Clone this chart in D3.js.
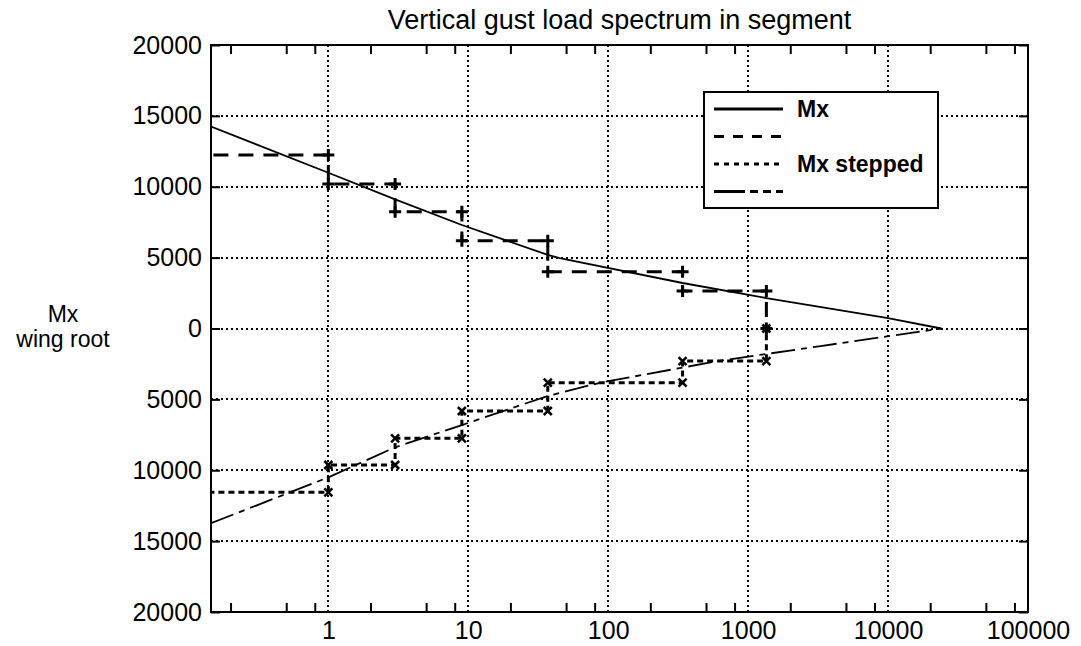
<!DOCTYPE html>
<html>
<head>
<meta charset="utf-8">
<script src="https://cdn.jsdelivr.net/npm/d3@7"></script>
<style>
  body { margin: 0; background: #fff; }
  text { font-family: "Liberation Sans", Arial, sans-serif; fill: #000; }
</style>
</head>
<body>
<div id="chart"></div>
<script>
// stepped spectrum: break points on the x axis and the level reached at each one
var stepBreaks = [0.1, 1, 3, 9, 37, 340, 1350];
var stepUpper = [12240, 10190, 8240, 6190, 4010, 2650, 0];
var stepLower = [-11560, -9630, -7750, -5820, -3820, -2300, 0];

// continuous Mx curves
var mxUpperX = [0.145, 1, 3, 9, 37, 45, 340, 1350, 10000, 24000];
var mxUpper = [14240, 10990, 9110, 7300, 5190, 4970, 3210, 2150, 740, 0];
var mxLowerX = [0.145, 1, 3, 9, 37, 88, 630, 3300, 24000];
var mxLower = [-13740, -10500, -8380, -6810, -4760, -3820, -2270, -1240, 0];

var xTicks = [1, 10, 100, 1000, 10000, 100000];
var xMinorTicks = [0.2, 0.5, 0.8, 2, 5, 8, 20, 50, 80, 200, 500, 800,
                   2000, 5000, 8000, 20000, 50000, 80000];
var yTicks = [-20000, -15000, -10000, -5000, 0, 5000, 10000, 15000, 20000];
var legendLabels = ["Mx", "", "Mx stepped", ""];

function gustChart() {
  var width = 1081, height = 646;
  var pl = 211, pr = 1028, pt = 45, pb = 612;

  var svg = d3.select('#chart').append('svg')
    .attr('width', width)
    .attr('height', height);

  var x = d3.scaleLog().domain([0.145, 100000]).range([pl, pr]);
  var y = d3.scaleLinear().domain([-20000, 20000]).range([pb, pt]);

  svg.append('clipPath').attr('id', 'plot')
    .append('rect')
    .attr('x', pl).attr('y', pt)
    .attr('width', pr - pl).attr('height', pb - pt);

  // grid
  var grid = svg.append('g')
    .attr('stroke', '#000')
    .attr('stroke-width', 2)
    .attr('shape-rendering', 'crispEdges')
    .attr('stroke-dasharray', '2,3');
  grid.selectAll('.vg')
    .data(xTicks.filter(function(d) { return d < 100000; }))
    .enter().append('line')
    .attr('x1', function(d) { return Math.round(x(d)); })
    .attr('x2', function(d) { return Math.round(x(d)); })
    .attr('y1', pt).attr('y2', pb);
  grid.selectAll('.hg')
    .data(yTicks.filter(function(d) { return Math.abs(d) < 20000; }))
    .enter().append('line')
    .attr('y1', function(d) { return Math.round(y(d)); })
    .attr('y2', function(d) { return Math.round(y(d)); })
    .attr('x1', pl).attr('x2', pr);

  // axes
  function styleAxis(g) {
    g.select('.domain').remove();
    g.selectAll('.tick line').attr('stroke', '#000').attr('stroke-width', 2);
    g.selectAll('.tick text').attr('font-size', 25).attr('fill', '#000')
      .style('font-family', '"Liberation Sans", Arial, sans-serif');
  }

  svg.append('g')
    .attr('transform', 'translate(0,' + pb + ')')
    .call(d3.axisBottom(x).tickValues(xMinorTicks).tickSize(-9).tickFormat(''))
    .call(styleAxis);
  svg.append('g')
    .attr('transform', 'translate(0,' + pt + ')')
    .call(d3.axisTop(x).tickValues(xMinorTicks).tickSize(-9).tickFormat(''))
    .call(styleAxis);
  svg.append('g')
    .attr('transform', 'translate(0,' + pb + ')')
    .call(d3.axisBottom(x).tickValues(xTicks).tickSize(0).tickPadding(9)
      .tickFormat(d3.format('d')))
    .call(styleAxis);
  svg.append('g')
    .attr('transform', 'translate(' + pl + ',0)')
    .call(d3.axisLeft(y).tickValues(yTicks).tickSize(-9).tickPadding(9)
      .tickFormat(function(d) { return Math.abs(d); }))
    .call(styleAxis);
  svg.append('g')
    .attr('transform', 'translate(' + pr + ',0)')
    .call(d3.axisRight(y).tickValues(yTicks).tickSize(-9).tickFormat(''))
    .call(styleAxis);

  svg.append('rect')
    .attr('x', pl).attr('y', pt)
    .attr('width', pr - pl).attr('height', pb - pt)
    .attr('fill', 'none').attr('stroke', '#000').attr('stroke-width', 2);

  // series
  var plot = svg.append('g').attr('clip-path', 'url(#plot)');

  var line = d3.line()
    .x(function(d) { return x(d[0]); })
    .y(function(d) { return y(d[1]); });
  var stepLine = d3.line()
    .x(function(d) { return x(d[0]); })
    .y(function(d) { return y(d[1]); })
    .curve(d3.curveStepAfter);

  var upperPts = mxUpperX.map(function(d, i) { return [d, mxUpper[i]]; });
  var lowerPts = mxLowerX.map(function(d, i) { return [d, mxLower[i]]; });
  var stepUpPts = stepBreaks.map(function(d, i) { return [d, stepUpper[i]]; });
  var stepLoPts = stepBreaks.map(function(d, i) { return [d, stepLower[i]]; });

  var styles = [
    { dash: null, width: 1.8 },
    { dash: '15,10', width: 3 },
    { dash: '6,4', width: 3 },
    { dash: '24,6,6,6', width: 1.8 }
  ];

  plot.append('path').attr('d', line(upperPts))
    .attr('fill', 'none').attr('stroke', '#000').attr('stroke-width', styles[0].width);
  plot.append('path').attr('d', stepLine(stepUpPts))
    .attr('fill', 'none').attr('stroke', '#000').attr('stroke-width', styles[1].width)
    .attr('stroke-dasharray', styles[1].dash);
  plot.append('path').attr('d', stepLine(stepLoPts))
    .attr('fill', 'none').attr('stroke', '#000').attr('stroke-width', styles[2].width)
    .attr('stroke-dasharray', styles[2].dash);
  plot.append('path').attr('d', line(lowerPts))
    .attr('fill', 'none').attr('stroke', '#000').attr('stroke-width', styles[3].width)
    .attr('stroke-dasharray', styles[3].dash);

  // corner markers of the stepped curves
  function corners(levels) {
    var out = [];
    for (var i = 1; i < stepBreaks.length; i++) {
      out.push([stepBreaks[i], levels[i - 1]]);
      out.push([stepBreaks[i], levels[i]]);
    }
    return out;
  }

  plot.selectAll('.plus')
    .data(corners(stepUpper))
    .enter().append('path')
    .attr('transform', function(d) { return 'translate(' + x(d[0]) + ',' + y(d[1]) + ')'; })
    .attr('d', 'M-6,0H6M0,-6V6')
    .attr('stroke', '#000').attr('stroke-width', 3);
  plot.selectAll('.cross')
    .data(corners(stepLower))
    .enter().append('path')
    .attr('transform', function(d) { return 'translate(' + x(d[0]) + ',' + y(d[1]) + ')'; })
    .attr('d', 'M-4,-4L4,4M-4,4L4,-4')
    .attr('stroke', '#000').attr('stroke-width', 2.5);

  // title and y label
  svg.append('text')
    .attr('x', (pl + pr) / 2).attr('y', 29)
    .attr('text-anchor', 'middle')
    .attr('font-size', 27)
    .text('Vertical gust load spectrum in segment');
  svg.append('text')
    .attr('x', 63).attr('y', 322)
    .attr('text-anchor', 'middle').attr('font-size', 23)
    .text('Mx');
  svg.append('text')
    .attr('x', 63).attr('y', 347)
    .attr('text-anchor', 'middle').attr('font-size', 23)
    .text('wing root');

  // legend
  var legendDash = [null, '10,9', '5,5', '31,5,8,5,8,5'];
  var legend = svg.append('g');
  legend.append('rect')
    .attr('x', 704).attr('y', 92)
    .attr('width', 234).attr('height', 116)
    .attr('fill', '#fff').attr('stroke', '#000').attr('stroke-width', 2);
  var rows = legend.selectAll('.legend')
    .data(legendLabels)
    .enter().append('g')
    .attr('class', 'legend')
    .attr('transform', function(d, i) { return 'translate(714,' + (109 + i * 27.5) + ')'; });
  rows.append('line')
    .attr('x1', 0).attr('x2', 69)
    .attr('stroke', '#000')
    .attr('stroke-width', 3)
    .attr('stroke-dasharray', function(d, i) { return legendDash[i]; });
  rows.append('text')
    .attr('x', 83).attr('dy', '0.35em')
    .attr('font-size', 23).attr('font-weight', 'bold')
    .text(function(d) { return d; });
}

gustChart();
</script>
</body>
</html>
